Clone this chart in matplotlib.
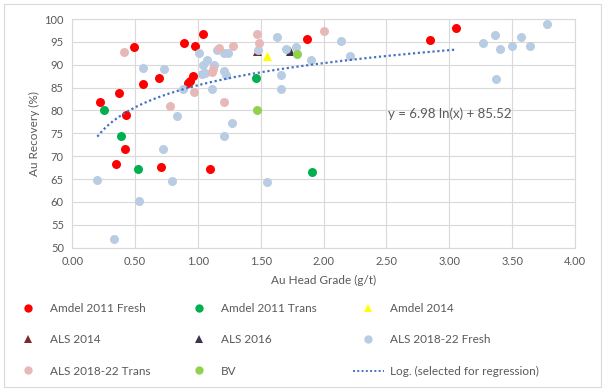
import numpy as np
import matplotlib
matplotlib.use("Agg")
import matplotlib.pyplot as plt
from matplotlib.lines import Line2D
from matplotlib.patches import Rectangle

plt.rcParams['font.family'] = ['Lato', 'DejaVu Sans']

# Amdel 2011 Fresh
fresh11_x = [0.22, 0.37, 0.43, 0.42, 0.35, 0.49, 0.56, 0.69, 0.71, 0.89, 0.98, 1.04,
             0.92, 0.94, 0.96, 1.10, 1.87, 2.85, 3.05]
fresh11_y = [81.9, 83.8, 79.0, 71.5, 68.2, 93.9, 85.7, 87.0, 67.7, 94.8, 94.0, 96.7,
             85.9, 86.5, 87.5, 67.3, 95.6, 95.5, 98.0]
# Amdel 2011 Trans
trans11_x = [0.25, 0.39, 0.52, 1.46, 1.91]
trans11_y = [80.1, 74.4, 67.3, 87.0, 66.5]
# Amdel 2014
amdel14_x = [1.55]
amdel14_y = [92.0]
# ALS 2014
als14_x = [1.47]
als14_y = [93.0]
# ALS 2016
als16_x = [1.73]
als16_y = [93.1]
# ALS 2018-22 Fresh
alsf_x = [0.20, 0.33, 0.53, 0.56, 0.73, 0.72, 0.79, 0.83, 0.88, 1.01, 1.04, 1.07,
          1.03, 1.06, 1.13, 1.11, 1.21, 1.22, 1.21, 1.27, 1.15, 1.21, 1.24, 1.48,
          1.55, 1.63, 1.66, 1.66, 1.70, 1.78, 1.90, 2.14, 2.21, 3.27, 3.36, 3.40,
          3.37, 3.50, 3.57, 3.64, 3.78]
alsf_y = [64.9, 51.8, 60.3, 89.3, 89.1, 71.6, 64.5, 78.9, 84.6, 92.6, 90.0, 91.1,
          88.0, 88.1, 89.9, 84.7, 88.6, 87.7, 74.4, 77.2, 93.2, 92.6, 92.6, 93.2,
          64.4, 96.1, 87.8, 84.8, 93.5, 93.9, 91.1, 95.2, 91.9, 94.8, 96.4, 93.4,
          86.9, 94.2, 96.0, 94.2, 98.9]
# ALS 2018-22 Trans
alst_x = [0.41, 0.78, 0.97, 1.11, 1.12, 1.17, 1.28, 1.21, 1.47, 1.49, 2.00]
alst_y = [92.8, 81.0, 84.0, 88.4, 89.0, 93.6, 94.2, 81.9, 96.7, 94.8, 97.4]
# BV
bv_x = [1.47, 1.79]
bv_y = [80.0, 92.4]

# log trend (Excel)
a, b = 6.98, 85.52
trend_x = np.linspace(0.2, 3.05, 200)
trend_y = a * np.log(trend_x) + b

grey = '#595959'
fig = plt.figure(figsize=(6.05, 3.91), dpi=100)
fig.patches.append(Rectangle((4 / 605, 4 / 391), 597 / 605, 383 / 391, transform=fig.transFigure,
                             fill=False, edgecolor='#D9D9D9', linewidth=0.8))
ax = fig.add_axes([72.2 / 605, 1 - 247.7 / 391, (575 - 72.2) / 605, (247.7 - 19) / 391])

s = 42
series = [
    (fresh11_x, fresh11_y, '#FF0000', 'o', 'Amdel 2011 Fresh'),
    (trans11_x, trans11_y, '#00B050', 'o', 'Amdel 2011 Trans'),
    (amdel14_x, amdel14_y, '#FFFF00', '^', 'Amdel 2014'),
    (als14_x, als14_y, '#7B2A2A', '^', 'ALS 2014'),
    (als16_x, als16_y, '#403152', '^', 'ALS 2016'),
    (alsf_x, alsf_y, '#B8CCE4', 'o', 'ALS 2018-22 Fresh'),
    (alst_x, alst_y, '#E6B9B8', 'o', 'ALS 2018-22 Trans'),
    (bv_x, bv_y, '#92D050', 'o', 'BV'),
]
handles = []
for xs, ys, col, m, lab in series:
    ax.scatter(xs, ys, s=s, c=col, marker=m, linewidths=0, zorder=3)
    handles.append(Line2D([], [], linestyle='none', marker=m, markersize=6,
                          markerfacecolor=col, markeredgewidth=0, label=lab))
ax.plot(trend_x, trend_y, linestyle=(0, (1, 1.2)), color='#4472C4', linewidth=1.6, zorder=4)
handles.append(Line2D([], [], linestyle=(0, (1, 1.2)), color='#4472C4', linewidth=1.4,
                      label='Log. (selected for regression)'))

ax.text(3.0, 79.2, 'y = 6.98 ln(x) + 85.52', color=grey, fontsize=9.5, ha='center', va='center')

ax.set_xlim(0, 4)
ax.set_ylim(50, 100)
ax.set_xticks(np.arange(0, 4.01, 0.5))
ax.set_xticklabels(['%.2f' % v for v in np.arange(0, 4.01, 0.5)])
ax.set_yticks(np.arange(50, 101, 5))
ax.grid(True, color='#D9D9D9', linewidth=0.8)
ax.set_axisbelow(True)
for sp in ax.spines.values():
    sp.set_color('#D9D9D9')
    sp.set_linewidth(0.8)
ax.tick_params(length=0, labelsize=8, colors=grey, pad=6)
ax.set_xlabel('Au Head Grade (g/t)', color=grey, fontsize=8.5, labelpad=6)
ax.set_ylabel('Au Recovery (%)', color=grey, fontsize=8.5, labelpad=3)

cols_x = [13, 184, 353]
for ci in range(3):
    hs = handles[ci::3]
    leg = fig.legend(handles=hs, loc='upper left', bbox_to_anchor=(cols_x[ci] / 605, 1 - 303 / 391),
                     frameon=False, fontsize=8.5, handlelength=2.6, handletextpad=0.5,
                     labelspacing=1.72, borderpad=0, borderaxespad=0, labelcolor=grey)

fig.savefig('out.png', dpi=100)
